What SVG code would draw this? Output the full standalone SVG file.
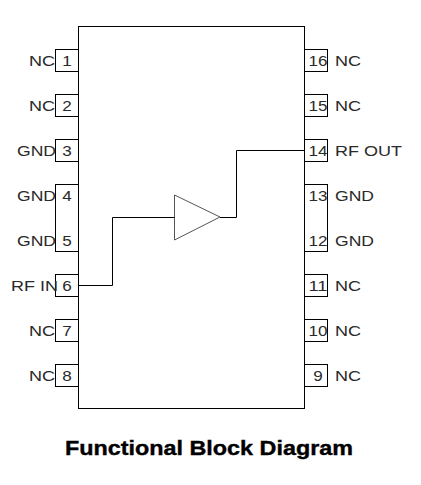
<svg xmlns="http://www.w3.org/2000/svg" width="421" height="485" viewBox="0 0 421 485">
<style>
.s{fill:none;stroke:#000;stroke-width:1}
.p{fill:#fff;stroke:#000;stroke-width:1}
text{font-family:"Liberation Sans",Arial,sans-serif;font-size:15.5px;fill:#2a2a2a}
.e{text-anchor:end}
.n{text-anchor:middle}
.t{font-size:21px;font-weight:bold;fill:#000;stroke:#000;stroke-width:.4;text-anchor:middle}
</style>
<rect width="421" height="485" fill="#fff"/>
<g id="pins-left">
<g id="pin1"><rect class="p" x="55.5" y="49.5" width="23" height="22"/><text x="67" y="66" class="n" textLength="9.5" lengthAdjust="spacingAndGlyphs">1</text><text x="55" y="66" class="e" textLength="26" lengthAdjust="spacingAndGlyphs">NC</text></g>
<g id="pin2"><rect class="p" x="55.5" y="94.5" width="23" height="22"/><text x="67" y="111" class="n" textLength="9.5" lengthAdjust="spacingAndGlyphs">2</text><text x="55" y="111" class="e" textLength="26" lengthAdjust="spacingAndGlyphs">NC</text></g>
<g id="pin3"><rect class="p" x="55.5" y="139.5" width="23" height="22"/><text x="67" y="156" class="n" textLength="9.5" lengthAdjust="spacingAndGlyphs">3</text><text x="56" y="156" class="e" textLength="39" lengthAdjust="spacingAndGlyphs">GND</text></g>
<g id="pin4-5"><rect class="p" x="55.5" y="184.5" width="23" height="67"/><text x="67" y="201" class="n" textLength="9.5" lengthAdjust="spacingAndGlyphs">4</text><text x="56" y="201" class="e" textLength="39" lengthAdjust="spacingAndGlyphs">GND</text><text x="67" y="246" class="n" textLength="9.5" lengthAdjust="spacingAndGlyphs">5</text><text x="56" y="246" class="e" textLength="39" lengthAdjust="spacingAndGlyphs">GND</text></g>
<g id="pin6"><rect class="p" x="55.5" y="274.5" width="23" height="22"/><text x="67" y="291" class="n" textLength="9.5" lengthAdjust="spacingAndGlyphs">6</text><text x="58" y="291" class="e" textLength="47" lengthAdjust="spacingAndGlyphs">RF IN</text></g>
<g id="pin7"><rect class="p" x="55.5" y="319.5" width="23" height="22"/><text x="67" y="336" class="n" textLength="9.5" lengthAdjust="spacingAndGlyphs">7</text><text x="55" y="336" class="e" textLength="26" lengthAdjust="spacingAndGlyphs">NC</text></g>
<g id="pin8"><rect class="p" x="55.5" y="364.5" width="23" height="22"/><text x="67" y="381" class="n" textLength="9.5" lengthAdjust="spacingAndGlyphs">8</text><text x="55" y="381" class="e" textLength="26" lengthAdjust="spacingAndGlyphs">NC</text></g>
</g>
<g id="pins-right">
<g id="pin16"><rect class="p" x="304.5" y="49.5" width="23" height="22"/><text x="318" y="66" class="n" textLength="19" lengthAdjust="spacingAndGlyphs">16</text><text x="335" y="66" textLength="26" lengthAdjust="spacingAndGlyphs">NC</text></g>
<g id="pin15"><rect class="p" x="304.5" y="94.5" width="23" height="22"/><text x="318" y="111" class="n" textLength="19" lengthAdjust="spacingAndGlyphs">15</text><text x="335" y="111" textLength="26" lengthAdjust="spacingAndGlyphs">NC</text></g>
<g id="pin14"><rect class="p" x="304.5" y="139.5" width="23" height="22"/><text x="318" y="156" class="n" textLength="19" lengthAdjust="spacingAndGlyphs">14</text><text x="335" y="156" textLength="67" lengthAdjust="spacingAndGlyphs">RF OUT</text></g>
<g id="pin12-13"><rect class="p" x="304.5" y="184.5" width="23" height="67"/><text x="318" y="201" class="n" textLength="19" lengthAdjust="spacingAndGlyphs">13</text><text x="335" y="201" textLength="39" lengthAdjust="spacingAndGlyphs">GND</text><text x="318" y="246" class="n" textLength="19" lengthAdjust="spacingAndGlyphs">12</text><text x="335" y="246" textLength="39" lengthAdjust="spacingAndGlyphs">GND</text></g>
<g id="pin11"><rect class="p" x="304.5" y="274.5" width="23" height="22"/><text x="318" y="291" class="n" textLength="19" lengthAdjust="spacingAndGlyphs">11</text><text x="335" y="291" textLength="26" lengthAdjust="spacingAndGlyphs">NC</text></g>
<g id="pin10"><rect class="p" x="304.5" y="319.5" width="23" height="22"/><text x="318" y="336" class="n" textLength="19" lengthAdjust="spacingAndGlyphs">10</text><text x="335" y="336" textLength="26" lengthAdjust="spacingAndGlyphs">NC</text></g>
<g id="pin9"><rect class="p" x="304.5" y="364.5" width="23" height="22"/><text x="318" y="381" class="n" textLength="9.5" lengthAdjust="spacingAndGlyphs">9</text><text x="335" y="381" textLength="26" lengthAdjust="spacingAndGlyphs">NC</text></g>
</g>
<g id="body"><rect class="s" x="78.5" y="26.5" width="226" height="382"/></g>
<g id="amplifier"><polygon points="174.5,195 220,217 174.5,240" fill="#fff" stroke="#555" stroke-width="1"/></g>
<g id="connectors">
<path class="s" d="M78.5 285.5H112.5V217.5H174.5"/>
<path class="s" d="M220 217.5H236.5V150.5H304.5"/>
</g>
<text id="title" x="209" y="455" class="t" textLength="288" lengthAdjust="spacingAndGlyphs">Functional Block Diagram</text>
</svg>
